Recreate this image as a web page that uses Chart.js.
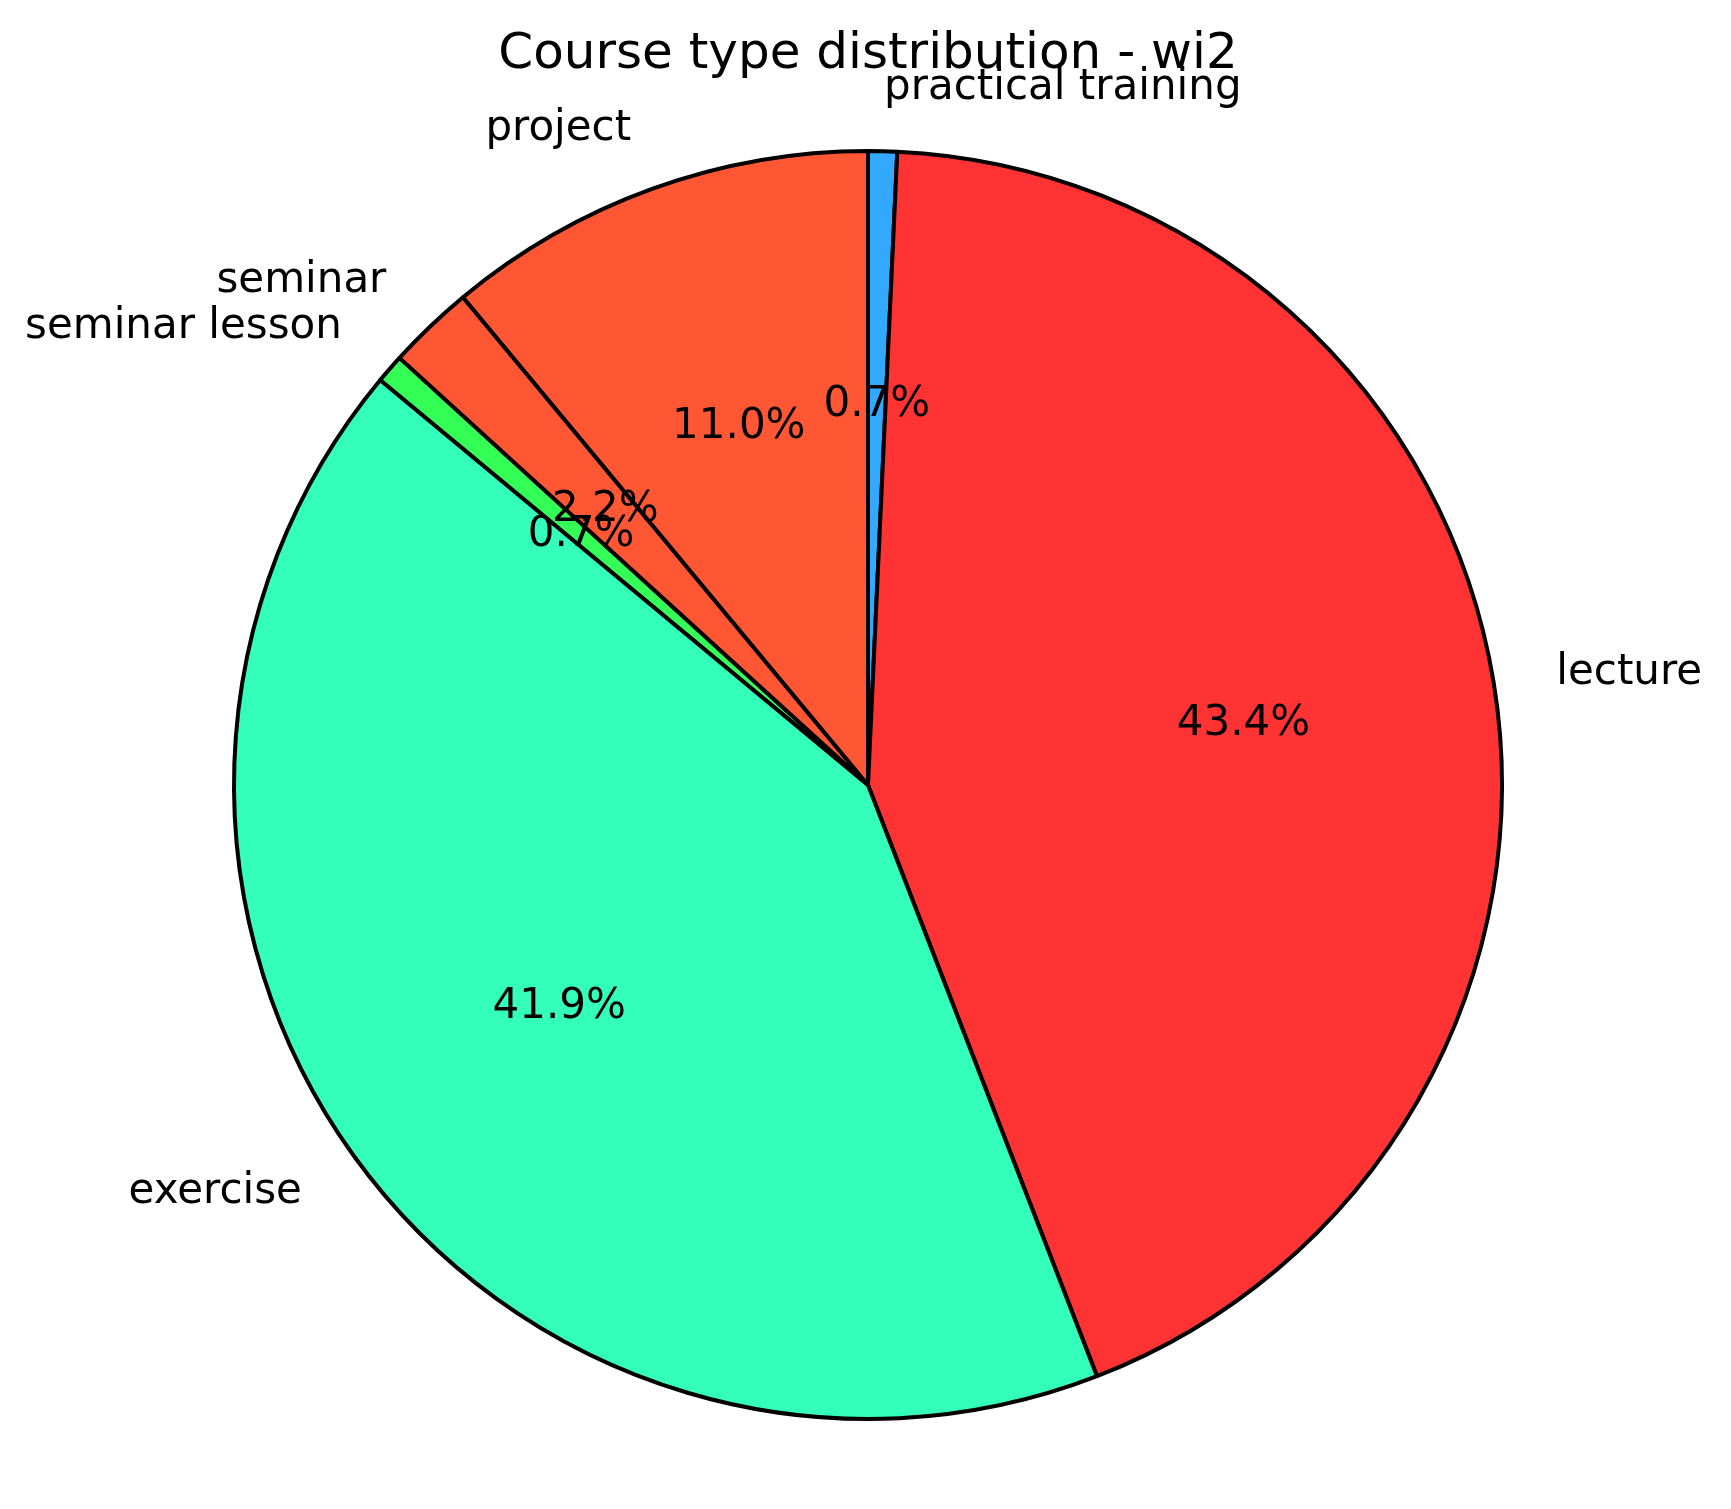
<!DOCTYPE html>
<html>
<head>
<meta charset="utf-8">
<title>Course type distribution - wi2</title>
<script src="https://cdn.jsdelivr.net/npm/chart.js@4/dist/chart.umd.min.js"></script>
<style>
  html, body { margin: 0; padding: 0; background: #ffffff; }
  #wrap { width: 1731px; height: 1509px; }
</style>
</head>
<body>
<div id="wrap"><canvas id="pie" width="1731" height="1509"></canvas></div>
<script>
"use strict";

// data, in the order the slices go counterclockwise from the top
const categories = ["project", "seminar", "seminar lesson", "exercise", "lecture", "practical training"];
const courseCounts = [15, 3, 1, 57, 59, 1];
const sliceColors = ["#FF5733", "#FF5733", "#33FF57", "#33FFBA", "#FF3333", "#33A8FF"];

const chartTitle = "Course type distribution - wi2";
const fontFamily = "'DejaVu Sans', 'Liberation Sans', sans-serif";

// Chart.js goes clockwise, so flip everything to get the same look
let labels = categories.slice().reverse();
let values = courseCounts.slice().reverse();
let colors = sliceColors.slice().reverse();
let total = values.reduce((a, b) => a + b, 0);

// draws title, outer labels (1.1 r) and percentages (0.6 r)
const pieText = {
  id: "pieText",
  afterDatasetsDraw(chart) {
    let ctx = chart.ctx;
    let arcs = chart.getDatasetMeta(0).data;
    ctx.save();
    ctx.fillStyle = "#000000";

    for (let i = arcs.length - 1; i >= 0; i--) {
      let arc = arcs[i];
      let p = arc.getProps(["x", "y", "startAngle", "endAngle", "outerRadius"], true);
      let mid = (p.startAngle + p.endAngle) / 2;
      let cos = Math.cos(mid);
      let sin = Math.sin(mid);

      // category label
      let lx = p.x + cos * p.outerRadius * 1.1;
      let ly = p.y + sin * p.outerRadius * 1.1;
      ctx.font = "42px " + fontFamily;
      ctx.textBaseline = "middle";
      ctx.textAlign = cos > 0 ? "left" : "right";
      ctx.fillText(labels[i], lx, ly);

      // percent
      let px = p.x + cos * p.outerRadius * 0.6;
      let py = p.y + sin * p.outerRadius * 0.6;
      ctx.textAlign = "center";
      ctx.fillText((values[i] / total * 100).toFixed(1) + "%", px, py);
    }

    // title
    ctx.font = "50px " + fontFamily;
    ctx.textAlign = "center";
    ctx.textBaseline = "alphabetic";
    ctx.fillText(chartTitle, 868, 68);
    ctx.restore();
  }
};

let pieChart = new Chart(document.querySelector("#pie"), {
  type: "pie",
  data: {
    labels: labels,
    datasets: [{
      data: values,
      backgroundColor: colors,
      borderColor: "#000000",
      borderWidth: 4,
      radius: 634
    }]
  },
  options: {
    responsive: false,
    animation: false,
    devicePixelRatio: 1,
    layout: {
      padding: { left: 52, right: 47, top: 131, bottom: 70 }
    },
    plugins: {
      legend: { display: false },
      tooltip: { enabled: false },
      title: { display: false }
    }
  },
  plugins: [pieText]
});
</script>
</body>
</html>
